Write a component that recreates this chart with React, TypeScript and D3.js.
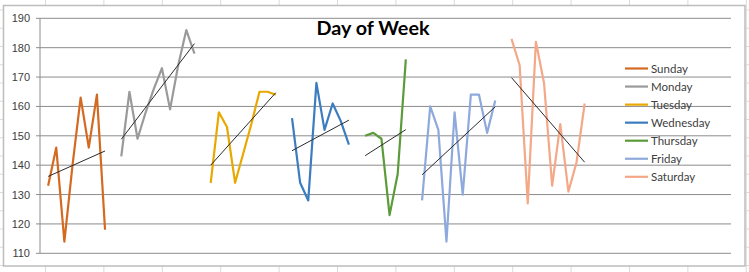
import React from "react";
import * as d3 from "d3";

const days = ["Sunday", "Monday", "Tuesday", "Wednesday", "Thursday", "Friday", "Saturday"];
const colors = ["#D46A22", "#9A9A9A", "#E8A800", "#3C7DC0", "#5C9B3A", "#8EA9DB", "#F4A888"];

const sunday = [133, 146, 114, 140, 163, 146, 164, 118];
const monday = [143, 165, 149, 158, 166, 173, 159, 174, 186, 178];
const tuesday = [134, 158, 153, 134, 144, 154, 165, 165, 164];
const wednesday = [156, 134, 128, 168, 152, 161, 155, 147];
const thursday = [150, 151, 149, 123, 137, 176];
const friday = [128, 160, 152, 114, 158, 130, 164, 164, 151, 162];
const saturday = [183, 174, 127, 182, 168, 133, 154, 131, 141, 161];

const seriesValues = [sunday, monday, tuesday, wednesday, thursday, friday, saturday];
const yTicks = [110, 120, 130, 140, 150, 160, 170, 180, 190];
const totalCategories = 86; // rows on the category axis (one blank row between days)
const title = "Day of Week";

const W = 749;
const H = 272;

export default function App() {
  const x = d3.scaleLinear().domain([0, totalCategories - 1]).range([40, 731]);
  const y = d3.scaleLinear().domain([110, 190]).range([253.3, 18.3]);

  // lay the days out in one column with a blank row before each
  let idx = 0;
  const series = seriesValues.map((vals, s) => {
    idx += 1;
    const pts = vals.map((v, i) => ({ i: idx + i, v }));
    idx += vals.length;
    return { name: days[s], color: colors[s], pts };
  });

  const line = d3
    .line<{ i: number; v: number }>()
    .x((d) => x(d.i))
    .y((d) => y(d.v));

  const trend = (pts: { i: number; v: number }[]) => {
    const n = pts.length;
    const mx = d3.mean(pts, (d) => d.i) as number;
    const my = d3.mean(pts, (d) => d.v) as number;
    let sxy = 0;
    let sxx = 0;
    pts.forEach((d) => {
      sxy += (d.i - mx) * (d.v - my);
      sxx += (d.i - mx) * (d.i - mx);
    });
    const b = sxy / sxx;
    const a = my - b * mx;
    const x0 = pts[0].i;
    const x1 = pts[n - 1].i;
    return [
      { i: x0, v: a + b * x0 },
      { i: x1, v: a + b * x1 },
    ];
  };

  const colLines = d3.range(0, 14).map((k) => 45.5 + k * 58.4);
  const rowLines = d3.range(0, 16).map((k) => 10 + k * 18.25);

  return (
    <div>
      <style>{`body{margin:0}`}</style>
      <svg width={W} height={H} style={{ display: "block" }}>
        <rect x={0} y={0} width={W} height={H} fill="#ffffff" />
        {colLines.map((cx, k) => (
          <line key={"c" + k} x1={cx} x2={cx} y1={0} y2={H} stroke="#dadada" strokeWidth={1} />
        ))}
        {rowLines.map((ry, k) => (
          <line key={"r" + k} x1={0} x2={W} y1={ry} y2={ry} stroke="#dadada" strokeWidth={1} />
        ))}
        {/* chart area */}
        <rect x={3.5} y={5.5} width={741.5} height={260.5} fill="#ffffff" stroke="#bdbdbd" strokeWidth={1.5} />

        {/* gridlines */}
        {yTicks.map((t) => (
          <g key={t}>
            <line x1={36} x2={731} y1={y(t)} y2={y(t)} stroke="#8c8c8c" strokeWidth={1} />
            <text
              x={30}
              y={y(t) + 4}
              textAnchor="end"
              fontFamily="Liberation Sans, Arial, sans-serif"
              fontSize={11}
              fill="#404040"
            >
              {t}
            </text>
          </g>
        ))}
        <line x1={40} x2={40} y1={y(190)} y2={y(110)} stroke="#8c8c8c" strokeWidth={1} />

        {/* series */}
        {series.map((s) => (
          <path
            key={s.name}
            d={line(s.pts) || ""}
            fill="none"
            stroke={s.color}
            strokeWidth={2.2}
            strokeLinejoin="round"
          />
        ))}
        {/* trendlines */}
        {series.map((s) => (
          <path key={s.name + "t"} d={line(trend(s.pts)) || ""} fill="none" stroke="#2b2b2b" strokeWidth={1} />
        ))}

        {/* title */}
        <text
          x={373}
          y={35}
          textAnchor="middle"
          fontFamily="Lato, sans-serif"
          fontWeight="bold"
          fontSize={19}
          fill="#000"
          textLength={113}
          lengthAdjust="spacingAndGlyphs"
        >
          {title}
        </text>

        {/* legend */}
        {series.map((s, k) => {
          const ly = 68.5 + k * 18.05;
          return (
            <g key={s.name + "l"}>
              <line x1={625} x2={648} y1={ly} y2={ly} stroke={s.color} strokeWidth={2.2} />
              <text x={651} y={ly + 4} fontFamily="Lato, sans-serif" fontSize={11.5} fill="#404040">
                {s.name}
              </text>
            </g>
          );
        })}
      </svg>
    </div>
  );
}
